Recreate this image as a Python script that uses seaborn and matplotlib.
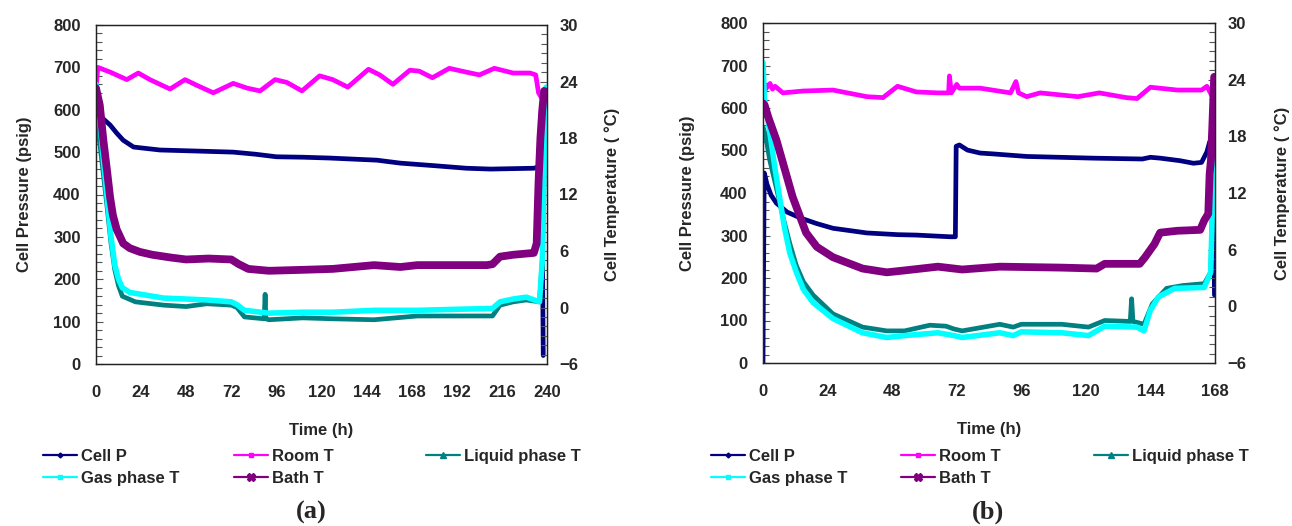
# -*- coding: utf-8 -*-
"""
Cell pressure and temperatures during two cooling runs, (a) 240 h and (b) 168 h
"""

import matplotlib
matplotlib.use("Agg")
import matplotlib.pyplot as plt
from matplotlib.lines import Line2D
from matplotlib.ticker import MultipleLocator
import seaborn as sns

## Values (time in h, pressure in psig, temperatures in degC)

# ---- panel (a) ----
t_a_cellp = [0, 1, 4, 7.5, 11, 14.5, 20, 34, 50, 73, 85, 96, 110, 124.5, 149.5,
             162, 180, 197, 210, 233, 235.5, 237, 238]
cellp_a = [562, 590, 578, 564, 545, 528, 512, 505, 503, 500, 495, 489, 488, 486, 481,
           474, 468, 462, 460, 462, 465, 600, 20]

t_a_room = [0, 1, 7.5, 16.4, 22.5, 28.7, 39.4, 47.4, 53.6, 62.4, 73, 80.4, 87.3, 95.3,
            101.6, 109.6, 119, 126, 134, 145, 151, 158, 167, 172, 179, 188, 197, 204,
            212, 222, 231, 234, 235.5, 237, 238.5]
room_a = [23.3, 25.5, 25.0, 24.2, 24.9, 24.2, 23.2, 24.2, 23.6, 22.8, 23.8, 23.3, 23.0,
          24.2, 23.9, 23.0, 24.6, 24.2, 23.4, 25.3, 24.7, 23.7, 25.2, 25.1, 24.4, 25.4,
          25.0, 24.7, 25.4, 24.9, 24.9, 24.7, 22.8, 22.3, 22.0]

t_a_liquid = [0, 2, 4, 6, 8, 10, 12, 14, 21, 36, 48, 59, 72, 75, 79, 89.5, 90, 90.4,
              92, 110, 126, 148, 171, 190, 211, 215, 222, 229, 236, 237.5, 238.5, 239.5]
liquid_a = [19.5, 17.5, 14.0, 10.5, 6.8, 4.0, 2.3, 1.2, 0.6, 0.25, 0.1, 0.4, 0.25, 0.0,
            -1.0, -1.2, 1.4, -1.2, -1.3, -1.1, -1.2, -1.3, -0.9, -0.9, -0.9, 0.25, 0.6,
            0.8, 0.6, 5.0, 15.0, 22.0]

t_a_gas = [0, 2, 4, 6, 8, 10, 12, 14, 18, 24, 36, 48, 59, 72, 75, 79, 92, 110, 126,
           148, 171, 190, 211, 215, 222, 229, 236, 237.5, 238.5, 239.5]
gas_a = [23.7, 20.0, 15.5, 11.5, 7.5, 4.5, 3.0, 2.1, 1.6, 1.4, 1.0, 0.9, 0.8, 0.6, 0.3,
         -0.3, -0.6, -0.5, -0.5, -0.3, -0.3, -0.2, -0.1, 0.6, 0.9, 1.1, 0.6, 5.0, 15.0, 23.4]

t_a_bath = [0, 2, 3.9, 6, 7.5, 9, 11, 14.5, 18, 23.4, 30, 40, 48, 60, 72, 76, 81, 92,
            110, 126, 148, 162, 171, 190, 208, 211, 215, 222, 233, 234.5, 235.5, 236.5,
            237.5, 238.5, 239.5]
bath_a = [23.3, 21.5, 17.8, 14.3, 11.7, 9.8, 8.3, 6.8, 6.3, 5.9, 5.6, 5.3, 5.1, 5.2, 5.1,
          4.6, 4.1, 3.9, 4.0, 4.1, 4.5, 4.3, 4.5, 4.5, 4.5, 4.6, 5.4, 5.6, 5.8, 6.8, 13.3,
          18.0, 21.0, 23.0, 22.5]

# ---- panel (b) ----
t_b_cellp = [0, 0.1, 0.2, 0.3, 0.4, 0.5, 1.5, 3, 5, 9, 14, 20, 26, 38.6, 50, 57, 69.5,
             71.5, 71.8, 73, 76, 80.7, 85.5, 98, 122.7, 141, 144, 147.6, 155, 160, 163,
             165, 166, 167.3, 167.8]
cellp_b = [0, 130, 210, 300, 410, 447, 420, 395, 376, 355, 341, 328, 317, 306, 302, 301,
           297, 297, 510, 513, 501, 494, 492, 486, 482, 480, 484, 482, 476, 470, 472,
           497, 520, 530, 160]

t_b_room = [0, 0.7, 2.6, 3.5, 4.5, 7.4, 15, 26, 38.6, 44.6, 50, 57, 65, 69, 69.3, 70,
            72, 73, 80.7, 92, 94, 95, 98, 103, 117, 125, 135, 139, 144, 154, 163, 165,
            167, 167.8]
room_b = [23.9, 22.9, 23.6, 23.0, 23.3, 22.6, 22.8, 22.9, 22.2, 22.1, 23.3, 22.7, 22.6,
          22.6, 24.4, 22.6, 23.5, 23.1, 23.1, 22.6, 23.8, 22.6, 22.2, 22.6, 22.2, 22.6,
          22.1, 22.0, 23.2, 22.9, 22.9, 23.3, 22.2, 22.5]

t_b_liquid = [0, 1, 2.5, 5, 8, 10, 12.4, 15, 18.6, 26, 37, 46, 52.6, 62, 68, 71, 74, 88,
              93, 96, 111, 121, 127, 136.5, 137, 137.5, 139, 141.6, 144.7, 150, 156, 164,
              166.4, 167, 167.7]
liquid_b = [19.0, 18.0, 15.5, 12.5, 8.8, 6.6, 4.3, 2.6, 1.2, -0.8, -2.2, -2.6, -2.6, -2.0,
            -2.1, -2.4, -2.6, -1.9, -2.2, -1.9, -1.9, -2.2, -1.5, -1.6, 0.8, -1.6, -1.7,
            -1.9, 0.26, 1.9, 2.2, 2.4, 3.6, 10.0, 21.0]

t_b_gas = [0, 0.5, 2.6, 4.5, 6.3, 8, 10, 12.4, 15, 18.6, 26, 37, 46, 52.6, 65, 71, 74,
           88, 93, 96, 111, 121, 127, 139, 141.6, 144, 147, 153, 164, 166.4, 167, 167.7]
gas_b = [25.8, 22.0, 18.3, 14.5, 11.3, 8.3, 5.6, 3.6, 1.8, 0.4, -1.3, -2.8, -3.3, -3.1,
         -2.8, -3.1, -3.3, -2.8, -3.1, -2.7, -2.8, -3.1, -2.1, -2.2, -2.6, -0.4, 1.0,
         1.9, 2.0, 3.6, 10.0, 21.0]

t_b_bath = [0, 0.6, 2, 5, 7.4, 11, 16, 20, 26, 37, 46, 52.6, 65, 74, 88, 111, 124, 127,
            140, 142, 145.5, 147.6, 154, 162.5, 164, 165.5, 166, 166.5, 167, 167.7]
bath_b = [21.5, 21.3, 20.0, 17.6, 15.2, 11.6, 7.8, 6.3, 5.2, 4.0, 3.6, 3.8, 4.2, 3.9,
          4.2, 4.1, 4.0, 4.5, 4.5, 5.2, 6.6, 7.8, 8.0, 8.1, 9.1, 9.8, 14.0, 15.5, 19.0, 24.3]

series_names = ["Cell P", "Room T", "Liquid phase T", "Gas phase T", "Bath T"]
colors = {"Cell P": "#000080", "Room T": "#FF00FF", "Liquid phase T": "#008080",
          "Gas phase T": "#00FFFF", "Bath T": "#800080"}
widths = {"Cell P": 3.4, "Room T": 3.4, "Liquid phase T": 3.4,
          "Gas phase T": 4.0, "Bath T": 5.6}
markers = {"Cell P": ("D", 2.5), "Room T": ("s", 2.5), "Liquid phase T": ("^", 4),
           "Gas phase T": ("s", 3), "Bath T": ("X", 6)}

sns.set_style("white")
plt.rcParams['font.family'] = ['Liberation Sans', 'DejaVu Sans']
plt.rcParams['font.weight'] = 'bold'
plt.rcParams['axes.labelweight'] = 'bold'
plt.rcParams['axes.edgecolor'] = '#222222'
plt.rcParams['axes.linewidth'] = 0.9

W, H = 1292, 526
fig = plt.figure(figsize=(W / 100, H / 100), dpi=100)


def draw_panel(rect, xmax, cellp, temps, ylab_x, ylab2_x, leg_x, tag, tag_x):
    ax = fig.add_axes(rect)
    ax2 = ax.twinx()

    sns.lineplot(x=cellp[0], y=cellp[1], ax=ax, color=colors["Cell P"],
                 linewidth=widths["Cell P"], estimator=None, sort=False)
    for name in ["Room T", "Liquid phase T", "Gas phase T", "Bath T"]:
        t, v = temps[name]
        sns.lineplot(x=t, y=v, ax=ax2, color=colors[name], linewidth=widths[name],
                     estimator=None, sort=False)

    ax.set_xlim(0, xmax)
    ax.set_ylim(0, 800)
    ax2.set_ylim(-6, 30)
    ax.xaxis.set_major_locator(MultipleLocator(24))
    ax.xaxis.set_minor_locator(MultipleLocator(6))
    ax.yaxis.set_major_locator(MultipleLocator(100))
    ax.yaxis.set_minor_locator(MultipleLocator(20))
    ax2.yaxis.set_major_locator(MultipleLocator(6))
    ax2.yaxis.set_minor_locator(MultipleLocator(1))

    for a in (ax, ax2):
        a.tick_params(which='both', direction='in', color='#555555', width=0.8, labelsize=12)
        a.tick_params(which='major', length=5)
        a.tick_params(which='minor', length=4)
    ax.tick_params(axis='x', which='major', pad=15)
    ax.tick_params(axis='y', which='major', pad=11)
    ax2.tick_params(axis='y', which='major', pad=9)

    ax.set_xlabel("Time (h)", fontsize=12, va='center')
    ax.xaxis.set_label_coords(0.5, (364 - 430) / 339)
    ax.set_ylabel("Cell Pressure (psig)", fontsize=12, va='center')
    ax.yaxis.set_label_coords(ylab_x, 0.5)
    ax2.set_ylabel("Cell Temperature ( °C)", fontsize=12, va='center')
    ax2.yaxis.set_label_coords(ylab2_x, 0.5)

    # legend below the panel: three columns, filled row by row
    columns = [["Cell P", "Gas phase T"], ["Room T", "Bath T"], ["Liquid phase T"]]
    for names, x0 in zip(columns, leg_x):
        handles = [Line2D([], [], color=colors[n], lw=1.6, marker=markers[n][0],
                          markersize=markers[n][1]) for n in names]
        fig.legend(handles, names, loc='upper left', bbox_to_anchor=(x0 / W, (H - 449) / H),
                   frameon=False, fontsize=12, borderpad=0, borderaxespad=0,
                   handlelength=2.05, handletextpad=0.25, labelspacing=0.4)

    fig.text(tag_x / W, (H - 512) / H, tag, family=['Liberation Serif', 'DejaVu Serif'],
             weight='bold', fontsize=19, ha='center', va='center')
    return ax, ax2


draw_panel([96 / W, (H - 364) / H, 451 / W, 339 / H], 240,
           (t_a_cellp, cellp_a),
           {"Room T": (t_a_room, room_a), "Liquid phase T": (t_a_liquid, liquid_a),
            "Gas phase T": (t_a_gas, gas_a), "Bath T": (t_a_bath, bath_a)},
           (25 - 96) / 451, (612 - 96) / 451, [43, 234, 426], "(a)", 311)

draw_panel([763 / W, (H - 363) / H, 452 / W, 340 / H], 168,
           (t_b_cellp, cellp_b),
           {"Room T": (t_b_room, room_b), "Liquid phase T": (t_b_liquid, liquid_b),
            "Gas phase T": (t_b_gas, gas_b), "Bath T": (t_b_bath, bath_b)},
           (687 - 763) / 452, (1282 - 763) / 452, [711, 901, 1094], "(b)", 988)

fig.savefig("out.png", dpi=100)
